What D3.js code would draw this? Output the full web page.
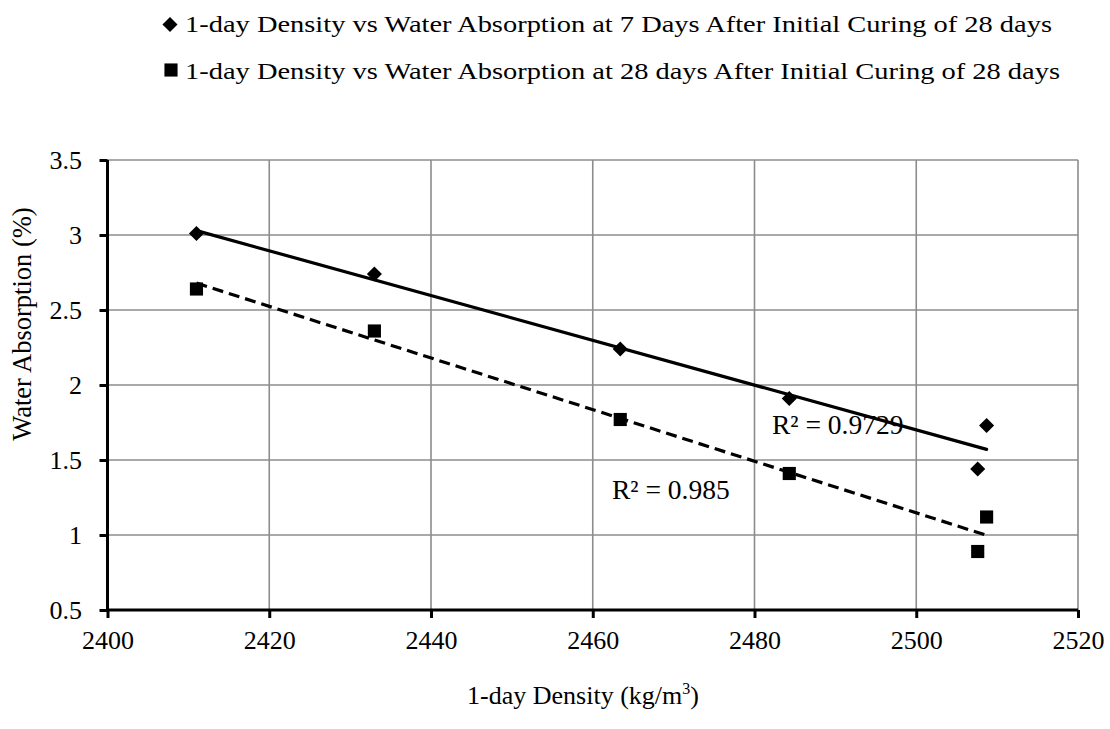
<!DOCTYPE html>
<html>
<head>
<meta charset="utf-8">
<script src="https://cdn.jsdelivr.net/npm/d3@7"></script>
<style>
  html, body { margin: 0; padding: 0; background: #fff; }
  svg { display: block; }
  text { font-family: "Liberation Serif", "Times New Roman", serif; fill: #000; }
</style>
</head>
<body>
<svg id="chart" width="1110" height="729"></svg>
<script>
// ---- data ----
const density = [2411, 2433, 2463.4, 2484.3, 2507.6, 2508.7];
const absorption7d = [3.01, 2.74, 2.24, 1.91, 1.44, 1.73];
const absorption28d = [2.64, 2.36, 1.77, 1.41, 0.89, 1.12];
const seriesNames = [
  "1-day Density vs Water Absorption at 7 Days After Initial Curing of 28 days",
  "1-day Density vs Water Absorption at 28 days After Initial Curing of 28 days"
];
const r2Labels = ["R² = 0.9729", "R² = 0.985"];
const xTicks = [2400, 2420, 2440, 2460, 2480, 2500, 2520];
const yTicks = [0.5, 1, 1.5, 2, 2.5, 3, 3.5];

(function () {
const svg = d3.select("#chart");
const pL = 107.5, pR = 1078, pT = 160, pB = 610;
const x = d3.scaleLinear().domain([2400, 2520]).range([pL, pR]);
const y = d3.scaleLinear().domain([0.5, 3.5]).range([pB, pT]);
const fs = 26;
const serif = "Liberation Serif, Times New Roman, serif";

// gridlines
const grid = svg.append("g");
grid.selectAll("line.v").data(xTicks.slice(1)).join("line")
  .attr("x1", d => x(d)).attr("x2", d => x(d))
  .attr("y1", pT).attr("y2", pB)
  .attr("stroke", "#8c8c8c").attr("stroke-width", 1.6);
grid.selectAll("line.h").data(yTicks.slice(1)).join("line")
  .attr("x1", pL).attr("x2", pR)
  .attr("y1", d => y(d)).attr("y2", d => y(d))
  .attr("stroke", "#8c8c8c").attr("stroke-width", 1.6);

// axes
const xAxis = d3.axisBottom(x).tickValues(xTicks).tickSize(8).tickFormat(d3.format("d"));
const yAxis = d3.axisLeft(y).tickValues(yTicks).tickSize(8).tickFormat(d => String(d));

const gx = svg.append("g").attr("transform", `translate(0,${pB})`).call(xAxis)
  .attr("font-family", serif).attr("font-size", fs);
gx.select(".domain").attr("stroke", "#000").attr("stroke-width", 3).attr("d", `M${pL},0H${pR}`);
gx.selectAll(".tick line").attr("stroke", "#000").attr("stroke-width", 3);
gx.selectAll(".tick text").attr("fill", "#000").attr("y", 39).attr("dy", 0);

const gy = svg.append("g").attr("transform", `translate(${pL},0)`).call(yAxis)
  .attr("font-family", serif).attr("font-size", fs);
gy.select(".domain").attr("stroke", "#000").attr("stroke-width", 3).attr("d", `M0,${pT}V${pB}`);
gy.selectAll(".tick line").attr("stroke", "#000").attr("stroke-width", 3);
gy.selectAll(".tick text").attr("fill", "#000").attr("x", -25.5);

// trendlines (least squares fit of each series)
function fit(xs, ys) {
  const n = xs.length, mx = d3.mean(xs), my = d3.mean(ys);
  let sxy = 0, sxx = 0;
  for (let i = 0; i < n; i++) { sxy += (xs[i]-mx)*(ys[i]-my); sxx += (xs[i]-mx)**2; }
  const b = sxy / sxx, a = my - b*mx;
  return v => a + b*v;
}
const xmin = d3.min(density), xmax = d3.max(density);
const f7 = fit(density, absorption7d), f28 = fit(density, absorption28d);
svg.append("line").attr("x1", x(xmin)).attr("y1", y(f7(xmin))).attr("x2", x(xmax)).attr("y2", y(f7(xmax)))
  .attr("stroke", "#000").attr("stroke-width", 3.2).attr("stroke-linecap", "round");
svg.append("line").attr("x1", x(xmin)).attr("y1", y(f28(xmin))).attr("x2", x(xmax)).attr("y2", y(f28(xmax)))
  .attr("stroke", "#000").attr("stroke-width", 3.2).attr("stroke-dasharray", "11,6");

// markers
const diamond = d3.symbol().type(d3.symbolDiamond2).size(145);
const square = d3.symbol().type(d3.symbolSquare2).size(220);
svg.append("g").selectAll("path").data(density.map((d, i) => [d, absorption7d[i]])).join("path")
  .attr("d", diamond).attr("transform", d => `translate(${x(d[0])},${y(d[1])})`).attr("fill", "#000");
svg.append("g").selectAll("path").data(density.map((d, i) => [d, absorption28d[i]])).join("path")
  .attr("d", square).attr("transform", d => `translate(${x(d[0])},${y(d[1])})`).attr("fill", "#000");

// R² labels
svg.append("text").attr("x", 772).attr("y", 434).attr("font-size", 27.5).text(r2Labels[0]);
svg.append("text").attr("x", 612).attr("y", 499).attr("font-size", 27.5).text(r2Labels[1]);

// legend
const legend = svg.append("g");
legend.append("path").attr("d", diamond())
  .attr("transform", "translate(170,24.5)").attr("fill", "#000");
legend.append("text").attr("x", 185).attr("y", 32).attr("font-size", 23)
  .attr("textLength", 867).attr("lengthAdjust", "spacingAndGlyphs").text(seriesNames[0]);
legend.append("path").attr("d", square())
  .attr("transform", "translate(171,70)").attr("fill", "#000");
legend.append("text").attr("x", 185).attr("y", 79).attr("font-size", 23)
  .attr("textLength", 875).attr("lengthAdjust", "spacingAndGlyphs").text(seriesNames[1]);

// axis titles
svg.append("text").attr("transform", "translate(31,324) rotate(-90)")
  .attr("text-anchor", "middle").attr("font-size", 26.5).text("Water Absorption (%)");
const xt = svg.append("text").attr("x", 583).attr("y", 704).attr("text-anchor", "middle").attr("font-size", 26);
xt.append("tspan").text("1-day Density (kg/m");
xt.append("tspan").attr("font-size", 16).attr("dy", -10).text("3");
xt.append("tspan").attr("dy", 10).text(")");
})();
</script>
</body>
</html>
